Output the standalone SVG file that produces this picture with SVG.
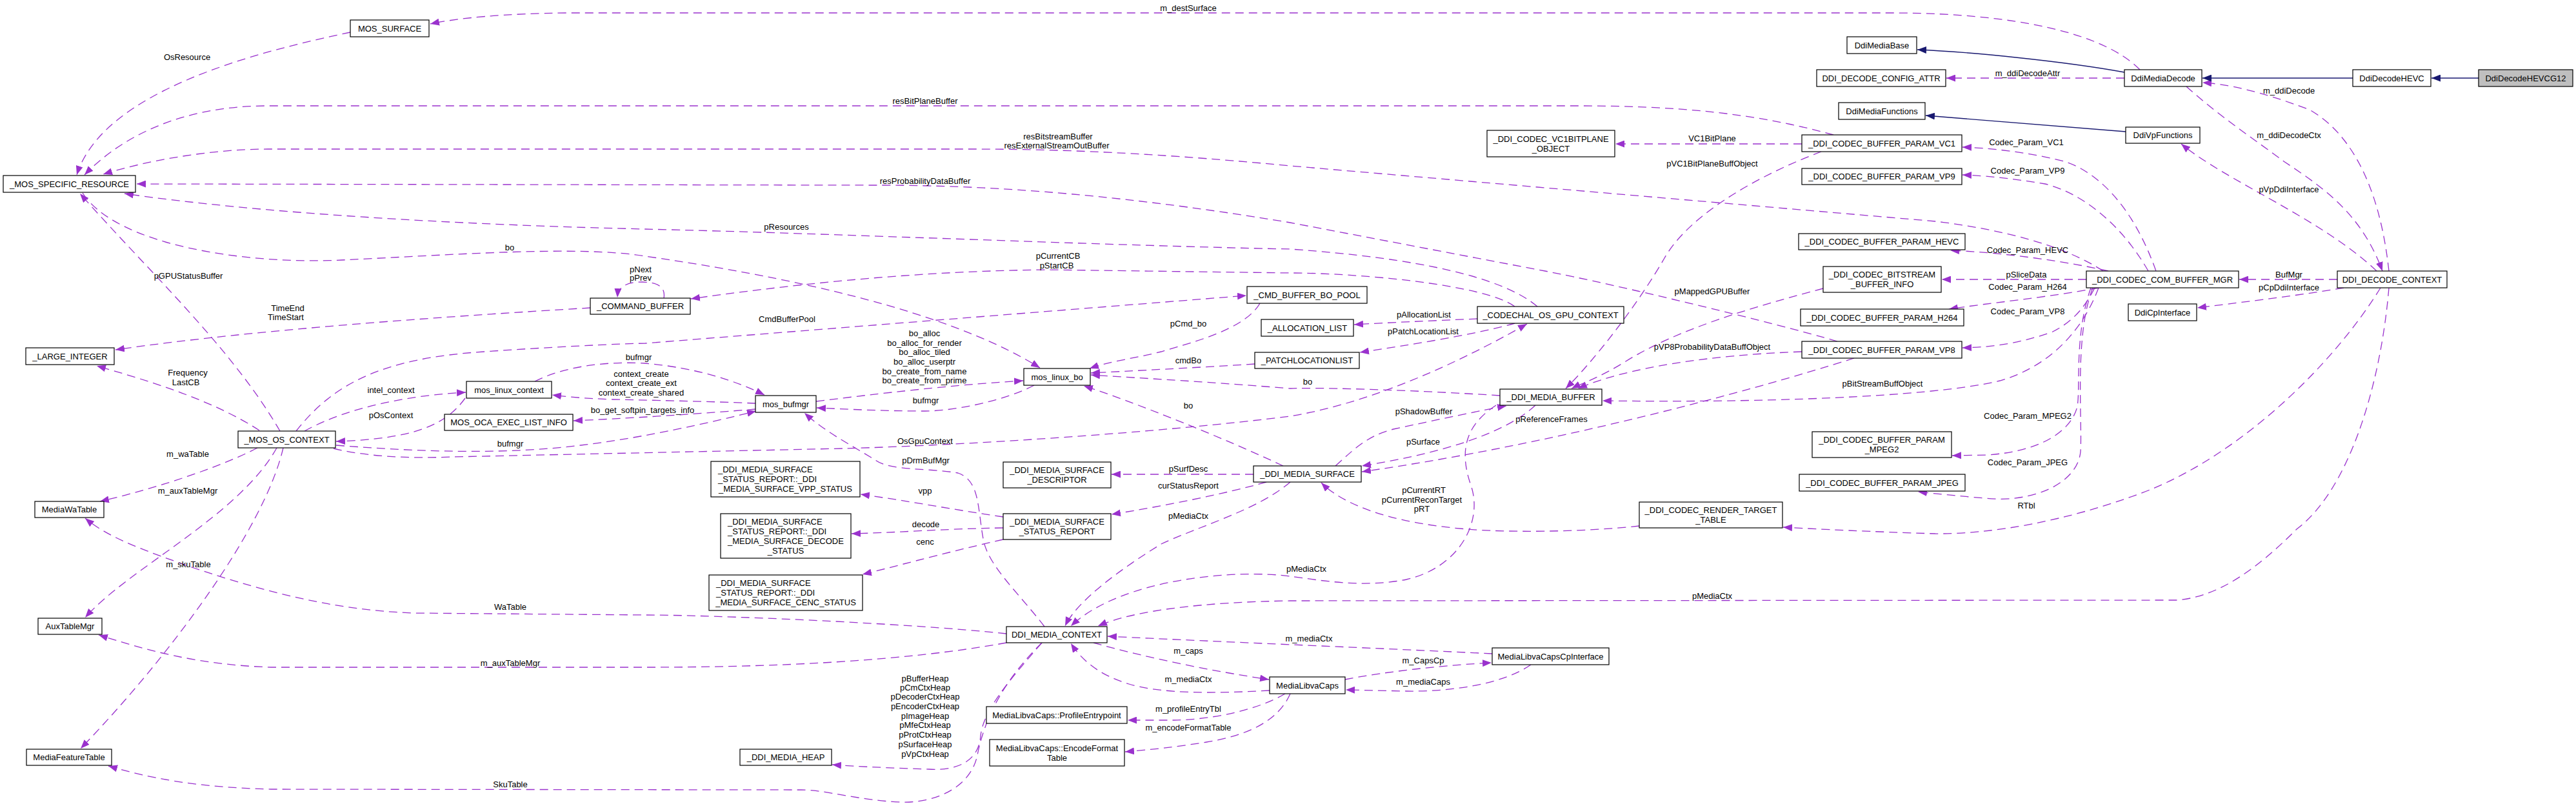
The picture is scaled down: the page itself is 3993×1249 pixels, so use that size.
<svg xmlns="http://www.w3.org/2000/svg" width="3993" height="1249" viewBox="0 0 3993 1249">
<defs>
<style>
.n rect{fill:#fff;stroke:#000;stroke-width:1.2}
text{font-family:"Liberation Sans",Arial,Helvetica,sans-serif;font-size:13px;fill:#000}
.n text{text-anchor:middle}
.n text.lft{text-anchor:start}
.lb text{text-anchor:middle}
.e{fill:none;stroke:#9a32cd;stroke-width:1.3;stroke-dasharray:13,8;marker-end:url(#ap)}
.i{fill:none;stroke:#191970;stroke-width:1.3;marker-end:url(#an)}
</style>
<marker id="ap" markerWidth="15" markerHeight="11" refX="14" refY="5.5" orient="auto" markerUnits="userSpaceOnUse"><path d="M0,0L14,5.5L0,11z" fill="#9a32cd" stroke="none"/></marker>
<marker id="an" markerWidth="15" markerHeight="11" refX="14" refY="5.5" orient="auto" markerUnits="userSpaceOnUse"><path d="M0,0L14,5.5L0,11z" fill="#191970" stroke="none"/></marker>
</defs>
<rect width="3993" height="1249" fill="#fff"/>
<g id="edges">
<path class="e" d="M3317,108 C3260,50 3120,21 2940,20 L880,20 C780,21 710,28 667,37"/>
<path class="e" d="M543,50 C400,80 160,140 119,271"/>
<path class="e" d="M2842,209 C2720,175 2600,164 2446,164 L415,164 C300,164 200,200 131,271"/>
<path class="e" d="M3260,420 C3200,380 3100,355 3000,343 L2000,257 C1750,233 1600,231 1500,231 L415,231 C330,231 230,248 160,270"/>
<path class="e" d="M2848,529 C2750,500 2500,440 2395,420 L2000,345 C1700,295 1500,287 1357,287 L212,285"/>
<path class="e" d="M2383,475 C2330,430 2200,400 2000,386 C1700,380 1300,362 1000,355 C700,348 400,330 193,300"/>
<path class="e" d="M128,299 C180,380 380,410 529,403 C700,395 900,380 1000,397 C1300,440 1500,500 1612,570"/>
<path class="e" d="M434,668 C360,540 230,420 124,300"/>
<path class="e" d="M915,477 C700,490 400,510 179,542"/>
<path class="e" d="M402,667 C330,620 230,590 150,567"/>
<path class="e" d="M1029,462 C1032,445 1020,437 995,437 C970,437 958,445 957,461"/>
<path class="e" d="M2348,475 C2300,440 2100,423 2000,423 L1625,418 C1400,420 1200,445 1071,463"/>
<path class="e" d="M459,668 C520,590 600,555 750,545 C850,538 950,533 1000,532 L1932,458"/>
<path class="e" d="M472,668 C540,630 640,612 722,608"/>
<path class="e" d="M721,617 C690,660 640,680 521,684"/>
<path class="e" d="M521,690 C650,700 780,705 900,690 C1000,678 1100,655 1172,637"/>
<path class="e" d="M517,695 C580,710 650,710 702,708 L1306,695 C1500,690 1800,670 2000,645 C2150,620 2300,540 2367,502"/>
<path class="e" d="M829,591 C880,565 950,560 1000,563 C1080,570 1140,590 1185,612"/>
<path class="e" d="M1171,625 C1100,622 1000,620 950,619 C900,617 880,615 856,612"/>
<path class="e" d="M1171,634 C1100,640 1000,647 889,652"/>
<path class="e" d="M399,694 C350,720 250,755 155,777"/>
<path class="e" d="M429,694 C370,800 200,880 132,957"/>
<path class="e" d="M439,694 C410,820 260,1020 125,1160"/>
<path class="e" d="M1560,982 C1400,965 1100,953 1000,953 L640,950 C520,945 420,920 300,880 C230,855 170,835 132,803"/>
<path class="e" d="M1560,996 C1400,1025 1200,1034 1000,1034 L420,1034 C300,1030 220,1005 153,984"/>
<path class="e" d="M1615,996 C1550,1060 1525,1120 1515,1170 C1505,1220 1450,1245 1395,1243 C1330,1240 1280,1224 1242,1224 L420,1223 C300,1220 230,1205 168,1187"/>
<path class="e" d="M1615,996 C1560,1060 1525,1100 1520,1140 C1518,1175 1490,1195 1440,1192 C1380,1190 1330,1188 1290,1185"/>
<path class="e" d="M1695,996 C1780,1020 1880,1040 1967,1053"/>
<path class="e" d="M1968,1070 C1880,1075 1800,1075 1750,1060 C1700,1045 1675,1020 1660,997"/>
<path class="e" d="M2313,1013 C2150,1005 1900,995 1717,986"/>
<path class="e" d="M2085,1053 C2150,1040 2250,1030 2312,1027"/>
<path class="e" d="M2373,1030 C2330,1060 2250,1072 2180,1071 L2086,1069"/>
<path class="e" d="M1992,1075 C1950,1100 1880,1115 1820,1116 L1748,1116"/>
<path class="e" d="M2000,1075 C1980,1120 1930,1140 1870,1150 C1820,1158 1780,1162 1744,1165"/>
<path class="e" d="M1619,971 C1580,920 1535,880 1525,840 C1515,790 1520,745 1485,733 C1440,725 1380,730 1357,713 C1320,690 1280,670 1247,640"/>
<path class="e" d="M1555,801 C1480,790 1400,775 1334,766"/>
<path class="e" d="M1555,818 C1450,820 1400,825 1320,827"/>
<path class="e" d="M1555,836 C1450,860 1380,880 1337,890"/>
<path class="e" d="M1943,735 L1723,735"/>
<path class="e" d="M1963,747 C1900,765 1800,785 1723,797"/>
<path class="e" d="M2000,747 C1950,790 1860,815 1800,843 C1740,880 1670,930 1651,970"/>
<path class="e" d="M1989,722 C1900,680 1750,620 1680,598"/>
<path class="e" d="M2325,613 C2200,605 2050,600 2000,602 C1850,590 1750,585 1691,581"/>
<path class="e" d="M1953,470 C1930,510 1850,530 1800,545 C1760,555 1720,560 1689,571"/>
<path class="e" d="M1945,564 C1850,570 1750,575 1691,578"/>
<path class="e" d="M1265,622 C1400,605 1500,595 1586,590"/>
<path class="e" d="M1603,597 C1560,620 1480,637 1434,637 C1370,637 1310,634 1266,632"/>
<path class="e" d="M2290,494 C2220,497 2150,500 2099,503"/>
<path class="e" d="M2348,501 C2280,520 2180,535 2108,546"/>
<path class="e" d="M2823,235 C2730,270 2620,330 2580,400 C2540,470 2470,560 2427,602"/>
<path class="e" d="M2826,447 C2720,475 2600,510 2520,560 C2480,585 2450,595 2436,602"/>
<path class="e" d="M2793,545 C2650,550 2520,570 2446,602"/>
<path class="e" d="M3253,446 C3225,520 3170,570 3100,590 C3020,610 2800,625 2484,621"/>
<path class="e" d="M2070,722 C2100,695 2120,675 2160,665 C2230,650 2300,635 2335,629"/>
<path class="e" d="M2380,628 C2330,675 2220,705 2111,722"/>
<path class="e" d="M2874,555 C2700,610 2400,690 2111,731"/>
<path class="e" d="M2541,815 C2450,825 2330,825 2274,820 C2150,810 2080,780 2048,748"/>
<path class="e" d="M2319,628 C2270,660 2262,700 2280,752 C2300,810 2260,880 2180,898 C2110,912 2040,898 2000,893 C1920,882 1740,895 1660,970"/>
<path class="e" d="M3703,446 C3690,600 3640,760 3560,820 C3500,880 3440,925 3374,930 L2000,931 C1870,933 1760,945 1702,970"/>
<path class="e" d="M3690,446 C3620,560 3480,700 3330,760 C3200,810 3080,828 3000,827 C2900,824 2820,820 2764,817"/>
<path class="e" d="M3342,420 C3310,330 3260,270 3200,250 C3140,235 3080,229 3042,228"/>
<path class="e" d="M3330,420 C3290,350 3230,300 3170,285 C3110,275 3070,272 3042,271"/>
<path class="e" d="M3268,420 C3180,400 3080,390 3023,388"/>
<path class="e" d="M3234,433 L3010,433"/>
<path class="e" d="M3623,433 L3471,433"/>
<path class="e" d="M3633,446 C3550,460 3460,470 3406,477"/>
<path class="e" d="M3253,446 C3180,460 3080,470 3021,479"/>
<path class="e" d="M3247,446 C3230,480 3210,500 3180,515 C3120,535 3080,538 3042,539"/>
<path class="e" d="M3241,446 C3215,520 3225,600 3220,630 C3210,670 3160,700 3080,705 L3026,706"/>
<path class="e" d="M3244,446 C3215,520 3228,650 3225,700 C3220,750 3150,780 3076,772 C3030,768 3000,765 2973,762"/>
<path class="e" d="M3684,420 C3600,340 3450,280 3381,223"/>
<path class="e" d="M3703,420 C3690,300 3650,210 3580,170 C3500,140 3450,130 3414,128"/>
<path class="e" d="M3389,134 C3440,180 3500,220 3540,250 C3600,290 3660,330 3693,420"/>
<path class="e" d="M3293,121 L3017,121"/>
<path class="e" d="M2793,223 L2504,223"/>
<path class="i" d="M3842,121 L3769,121"/>
<path class="i" d="M3647,121 L3414,121"/>
<path class="i" d="M3293,112 C3200,95 3050,80 2972,77"/>
<path class="i" d="M3295,204 L2985,179"/>
<g class="lb">
<text x="1842" y="16.5">m_destSurface</text>
<text x="290" y="92.5">OsResource</text>
<text x="1434" y="160.5">resBitPlaneBuffer</text>
<text x="1640" y="215.5">resBitstreamBuffer</text>
<text x="1638" y="229.5">resExternalStreamOutBuffer</text>
<text x="1434" y="284.5">resProbabilityDataBuffer</text>
<text x="1219" y="355.5">pResources</text>
<text x="790" y="387.5">bo</text>
<text x="993" y="421.5">pNext</text>
<text x="993" y="434.5">pPrev</text>
<text x="1640" y="400.5">pCurrentCB</text>
<text x="1638" y="415.5">pStartCB</text>
<text x="292" y="431.5">pGPUStatusBuffer</text>
<text x="446" y="481.5">TimeEnd</text>
<text x="443" y="495.5">TimeStart</text>
<text x="1220" y="498.5">CmdBufferPool</text>
<text x="1433" y="520.5">bo_alloc</text>
<text x="1433" y="535.5">bo_alloc_for_render</text>
<text x="1433" y="549.5">bo_alloc_tiled</text>
<text x="1433" y="564.5">bo_alloc_userptr</text>
<text x="1433" y="579.5">bo_create_from_name</text>
<text x="1433" y="593.5">bo_create_from_prime</text>
<text x="990" y="557.5">bufmgr</text>
<text x="994" y="583.5">context_create</text>
<text x="994" y="597.5">context_create_ext</text>
<text x="994" y="612.5">context_create_shared</text>
<text x="291" y="581.5">Frequency</text>
<text x="288" y="596.5">LastCB</text>
<text x="606" y="608.5">intel_context</text>
<text x="996" y="639.5">bo_get_softpin_targets_info</text>
<text x="606" y="647.5">pOsContext</text>
<text x="1435" y="624.5">bufmgr</text>
<text x="791" y="691.5">bufmgr</text>
<text x="1434" y="687.5">OsGpuContext</text>
<text x="291" y="707.5">m_waTable</text>
<text x="1435" y="717.5">pDrmBufMgr</text>
<text x="291" y="764.5">m_auxTableMgr</text>
<text x="1434" y="764.5">vpp</text>
<text x="1435" y="816.5">decode</text>
<text x="1434" y="843.5">cenc</text>
<text x="292" y="878.5">m_skuTable</text>
<text x="791" y="944.5">WaTable</text>
<text x="791" y="1031.5">m_auxTableMgr</text>
<text x="1434" y="1055.5">pBufferHeap</text>
<text x="1434" y="1069.5">pCmCtxHeap</text>
<text x="1434" y="1083.5">pDecoderCtxHeap</text>
<text x="1434" y="1098.5">pEncoderCtxHeap</text>
<text x="1434" y="1113.5">pImageHeap</text>
<text x="1434" y="1127.5">pMfeCtxHeap</text>
<text x="1434" y="1142.5">pProtCtxHeap</text>
<text x="1434" y="1157.5">pSurfaceHeap</text>
<text x="1434" y="1172.5">pVpCtxHeap</text>
<text x="791" y="1219.5">SkuTable</text>
<text x="1842" y="505.5">pCmd_bo</text>
<text x="1842" y="562.5">cmdBo</text>
<text x="1842" y="632.5">bo</text>
<text x="2027" y="595.5">bo</text>
<text x="1842" y="730.5">pSurfDesc</text>
<text x="1842" y="756.5">curStatusReport</text>
<text x="1842" y="803.5">pMediaCtx</text>
<text x="1842" y="1012.5">m_caps</text>
<text x="1842" y="1056.5">m_mediaCtx</text>
<text x="1842" y="1102.5">m_profileEntryTbl</text>
<text x="1842" y="1131.5">m_encodeFormatTable</text>
<text x="2207" y="491.5">pAllocationList</text>
<text x="2206" y="517.5">pPatchLocationList</text>
<text x="2207" y="641.5">pShadowBuffer</text>
<text x="2405" y="653.5">pReferenceFrames</text>
<text x="2206" y="688.5">pSurface</text>
<text x="2207" y="763.5">pCurrentRT</text>
<text x="2204" y="778.5">pCurrentReconTarget</text>
<text x="2204" y="792.5">pRT</text>
<text x="2025" y="885.5">pMediaCtx</text>
<text x="2654" y="927.5">pMediaCtx</text>
<text x="2029" y="993.5">m_mediaCtx</text>
<text x="2206" y="1027.5">m_CapsCp</text>
<text x="2206" y="1060.5">m_mediaCaps</text>
<text x="2654" y="218.5">VC1BitPlane</text>
<text x="2654" y="257.5">pVC1BitPlaneBuffObject</text>
<text x="2654" y="455.5">pMappedGPUBuffer</text>
<text x="2654" y="541.5">pVP8ProbabilityDataBuffObject</text>
<text x="2918" y="598.5">pBitStreamBuffObject</text>
<text x="3141" y="224.5">Codec_Param_VC1</text>
<text x="3143" y="268.5">Codec_Param_VP9</text>
<text x="3143" y="391.5">Codec_Param_HEVC</text>
<text x="3141" y="429.5">pSliceData</text>
<text x="3143" y="448.5">Codec_Param_H264</text>
<text x="3143" y="486.5">Codec_Param_VP8</text>
<text x="3143" y="648.5">Codec_Param_MPEG2</text>
<text x="3143" y="720.5">Codec_Param_JPEG</text>
<text x="3141" y="787.5">RTbl</text>
<text x="3143" y="117.5">m_ddiDecodeAttr</text>
<text x="3548" y="144.5">m_ddiDecode</text>
<text x="3548" y="213.5">m_ddiDecodeCtx</text>
<text x="3548" y="297.5">pVpDdiInterface</text>
<text x="3548" y="429.5">BufMgr</text>
<text x="3548" y="449.5">pCpDdiInterface</text>
</g>
</g>
<g id="n_mos_surface" class="n"><rect x="543" y="31" width="122" height="26"/><text x="604" y="48.5">MOS_SURFACE</text></g>
<g id="n_mos_specific_resource" class="n"><rect x="5" y="272" width="205" height="26"/><text x="107.5" y="289.5">_MOS_SPECIFIC_RESOURCE</text></g>
<g id="n_command_buffer" class="n"><rect x="915" y="462" width="155" height="25"/><text x="992.5" y="479">_COMMAND_BUFFER</text></g>
<g id="n_large_integer" class="n"><rect x="40" y="539" width="137" height="26"/><text x="108.5" y="556.5">_LARGE_INTEGER</text></g>
<g id="n_mos_os_context" class="n"><rect x="369" y="668" width="151" height="26"/><text x="444.5" y="685.5">_MOS_OS_CONTEXT</text></g>
<g id="n_mos_linux_context" class="n"><rect x="723" y="591" width="132" height="26"/><text x="789" y="608.5">mos_linux_context</text></g>
<g id="n_mos_oca_exec_list_info" class="n"><rect x="689" y="642" width="199" height="25"/><text x="788.5" y="659">MOS_OCA_EXEC_LIST_INFO</text></g>
<g id="n_mediawatable" class="n"><rect x="54" y="777" width="107" height="25"/><text x="107.5" y="794">MediaWaTable</text></g>
<g id="n_auxtablemgr" class="n"><rect x="59" y="958" width="99" height="25"/><text x="108.5" y="975">AuxTableMgr</text></g>
<g id="n_mediafeaturetable" class="n"><rect x="41" y="1161" width="132" height="25"/><text x="107" y="1178">MediaFeatureTable</text></g>
<g id="n_cmd_buffer_bo_pool" class="n"><rect x="1933" y="444" width="186" height="26"/><text x="2026" y="461.5">_CMD_BUFFER_BO_POOL</text></g>
<g id="n_allocation_list" class="n"><rect x="1955" y="495" width="143" height="26"/><text x="2026.5" y="512.5">_ALLOCATION_LIST</text></g>
<g id="n_patchlocationlist" class="n"><rect x="1945" y="546" width="162" height="25"/><text x="2026" y="563">_PATCHLOCATIONLIST</text></g>
<g id="n_mos_linux_bo" class="n"><rect x="1587" y="571" width="103" height="26"/><text x="1638.5" y="588.5">mos_linux_bo</text></g>
<g id="n_mos_bufmgr" class="n"><rect x="1171" y="613" width="94" height="26"/><text x="1218" y="630.5">mos_bufmgr</text></g>
<g id="n_vpp_status" class="n"><rect x="1102" y="715" width="231" height="55"/><text class="lft" x="1113" y="732">_DDI_MEDIA_SURFACE</text><text class="lft" x="1113" y="747">_STATUS_REPORT::_DDI</text><text x="1217.5" y="762">_MEDIA_SURFACE_VPP_STATUS</text></g>
<g id="n_surface_descriptor" class="n"><rect x="1555" y="716" width="167" height="40"/><text x="1638.5" y="733">_DDI_MEDIA_SURFACE</text><text x="1638.5" y="748">_DESCRIPTOR</text></g>
<g id="n_surface_status_report" class="n"><rect x="1555" y="796" width="167" height="40"/><text x="1638.5" y="813">_DDI_MEDIA_SURFACE</text><text x="1638.5" y="828">_STATUS_REPORT</text></g>
<g id="n_decode_status" class="n"><rect x="1117" y="796" width="202" height="69"/><text class="lft" x="1128" y="812.5">_DDI_MEDIA_SURFACE</text><text class="lft" x="1128" y="827.5">_STATUS_REPORT::_DDI</text><text class="lft" x="1128" y="842.5">_MEDIA_SURFACE_DECODE</text><text x="1218" y="857.5">_STATUS</text></g>
<g id="n_cenc_status" class="n"><rect x="1099" y="891" width="238" height="55"/><text class="lft" x="1110" y="908">_DDI_MEDIA_SURFACE</text><text class="lft" x="1110" y="923">_STATUS_REPORT::_DDI</text><text x="1218" y="938">_MEDIA_SURFACE_CENC_STATUS</text></g>
<g id="n_ddi_media_surface" class="n"><rect x="1943" y="722" width="167" height="25"/><text x="2026.5" y="739">_DDI_MEDIA_SURFACE</text></g>
<g id="n_codechal_os_gpu_context" class="n"><rect x="2290" y="475" width="227" height="26"/><text x="2403.5" y="492.5">_CODECHAL_OS_GPU_CONTEXT</text></g>
<g id="n_ddi_media_buffer" class="n"><rect x="2325" y="603" width="158" height="25"/><text x="2404" y="620">_DDI_MEDIA_BUFFER</text></g>
<g id="n_render_target_table" class="n"><rect x="2541" y="778" width="222" height="40"/><text x="2652" y="795">_DDI_CODEC_RENDER_TARGET</text><text x="2652" y="810">_TABLE</text></g>
<g id="n_ddimediabase" class="n"><rect x="2863" y="57" width="108" height="26"/><text x="2917" y="74.5">DdiMediaBase</text></g>
<g id="n_decode_config_attr" class="n"><rect x="2816" y="108" width="200" height="26"/><text x="2916" y="125.5">DDI_DECODE_CONFIG_ATTR</text></g>
<g id="n_ddimediafunctions" class="n"><rect x="2850" y="159" width="134" height="26"/><text x="2917" y="176.5">DdiMediaFunctions</text></g>
<g id="n_vc1bitplane_object" class="n"><rect x="2305" y="202" width="198" height="41"/><text x="2404" y="219.5">_DDI_CODEC_VC1BITPLANE</text><text x="2404" y="234.5">_OBJECT</text></g>
<g id="n_param_vc1" class="n"><rect x="2793" y="209" width="248" height="26"/><text x="2917" y="226.5">_DDI_CODEC_BUFFER_PARAM_VC1</text></g>
<g id="n_param_vp9" class="n"><rect x="2793" y="261" width="248" height="25"/><text x="2917" y="278">_DDI_CODEC_BUFFER_PARAM_VP9</text></g>
<g id="n_param_hevc" class="n"><rect x="2788" y="362" width="258" height="25"/><text x="2917" y="379">_DDI_CODEC_BUFFER_PARAM_HEVC</text></g>
<g id="n_bitstream_buffer_info" class="n"><rect x="2826" y="413" width="183" height="40"/><text x="2917.5" y="430">_DDI_CODEC_BITSTREAM</text><text x="2917.5" y="445">_BUFFER_INFO</text></g>
<g id="n_param_h264" class="n"><rect x="2791" y="479" width="253" height="26"/><text x="2917.5" y="496.5">_DDI_CODEC_BUFFER_PARAM_H264</text></g>
<g id="n_param_vp8" class="n"><rect x="2793" y="529" width="248" height="26"/><text x="2917" y="546.5">_DDI_CODEC_BUFFER_PARAM_VP8</text></g>
<g id="n_param_mpeg2" class="n"><rect x="2809" y="669" width="216" height="40"/><text x="2917" y="686">_DDI_CODEC_BUFFER_PARAM</text><text x="2917" y="701">_MPEG2</text></g>
<g id="n_param_jpeg" class="n"><rect x="2789" y="735" width="257" height="26"/><text x="2917.5" y="752.5">_DDI_CODEC_BUFFER_PARAM_JPEG</text></g>
<g id="n_com_buffer_mgr" class="n"><rect x="3234" y="420" width="236" height="26"/><text x="3352" y="437.5">_DDI_CODEC_COM_BUFFER_MGR</text></g>
<g id="n_ddi_decode_context" class="n"><rect x="3623" y="420" width="170" height="26"/><text x="3708" y="437.5">DDI_DECODE_CONTEXT</text></g>
<g id="n_ddicpinterface" class="n"><rect x="3299" y="471" width="106" height="26"/><text x="3352" y="488.5">DdiCpInterface</text></g>
<g id="n_ddimediadecode" class="n"><rect x="3293" y="108" width="120" height="26"/><text x="3353" y="125.5">DdiMediaDecode</text></g>
<g id="n_ddidecodehevc" class="n"><rect x="3647" y="108" width="121" height="26"/><text x="3707.5" y="125.5">DdiDecodeHEVC</text></g>
<g id="n_ddidecodehevcg12" class="n"><rect x="3842" y="108" width="146" height="26" style="fill:#bfbfbf"/><text x="3915" y="125.5">DdiDecodeHEVCG12</text></g>
<g id="n_ddivpfunctions" class="n"><rect x="3295" y="197" width="115" height="25"/><text x="3352.5" y="214">DdiVpFunctions</text></g>
<g id="n_ddi_media_context" class="n"><rect x="1560" y="971" width="156" height="25"/><text x="1638" y="988">DDI_MEDIA_CONTEXT</text></g>
<g id="n_ddi_media_heap" class="n"><rect x="1147" y="1161" width="142" height="25"/><text x="1218" y="1178">_DDI_MEDIA_HEAP</text></g>
<g id="n_profileentrypoint" class="n"><rect x="1529" y="1095" width="218" height="26"/><text x="1638" y="1112.5">MediaLibvaCaps::ProfileEntrypoint</text></g>
<g id="n_encodeformattable" class="n"><rect x="1534" y="1146" width="209" height="41"/><text x="1638.5" y="1163.5">MediaLibvaCaps::EncodeFormat</text><text x="1638.5" y="1178.5">Table</text></g>
<g id="n_medialibvacaps" class="n"><rect x="1968" y="1049" width="117" height="26"/><text x="2026.5" y="1066.5">MediaLibvaCaps</text></g>
<g id="n_medialibvacapscpinterface" class="n"><rect x="2313" y="1004" width="181" height="26"/><text x="2403.5" y="1021.5">MediaLibvaCapsCpInterface</text></g>
</svg>
